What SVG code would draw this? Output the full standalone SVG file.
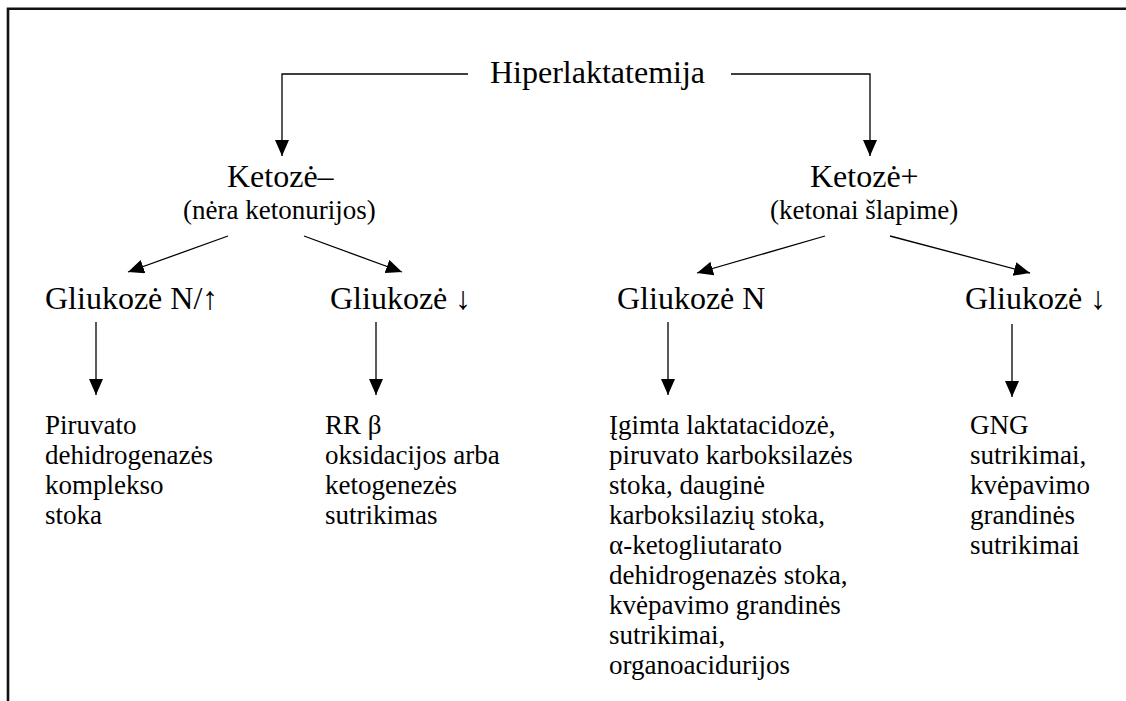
<svg xmlns="http://www.w3.org/2000/svg" width="1126" height="701" viewBox="0 0 1126 701">
<style>
.t{font-family:'Liberation Serif','DejaVu Serif','Noto Serif',Tinos,'Times New Roman',Times,serif;fill:#000}
.big{font-size:32px}
.sub{font-size:27px}
.body{font-size:27px}
.conn{fill:none;stroke:#000;stroke-width:1.3}
</style>
<defs>
<marker id="ah" viewBox="0 0 16 14" refX="16" refY="7" markerWidth="16" markerHeight="14" markerUnits="userSpaceOnUse" orient="auto">
<path d="M0,0 L16,7 L0,14 z" fill="#000"/>
</marker>
</defs>
<rect width="1126" height="701" fill="#fff"/>
<path d="M8,701 V8.7 H1126" fill="none" stroke="#111" stroke-width="2.6"/>
<g id="connectors">
<path class="conn" d="M468,74 H282 V156" marker-end="url(#ah)"/>
<path class="conn" d="M731,74 H870 V156" marker-end="url(#ah)"/>
<path class="conn" d="M228,236 L128,272" marker-end="url(#ah)"/>
<path class="conn" d="M304,236 L402,272" marker-end="url(#ah)"/>
<path class="conn" d="M825,236 L697,273" marker-end="url(#ah)"/>
<path class="conn" d="M890,236 L1030,273" marker-end="url(#ah)"/>
<path class="conn" d="M96,322 V395" marker-end="url(#ah)"/>
<path class="conn" d="M376,322 V395" marker-end="url(#ah)"/>
<path class="conn" d="M668,322 V395" marker-end="url(#ah)"/>
<path class="conn" d="M1012,324 V397" marker-end="url(#ah)"/>
</g>
<g id="hiperlaktatemija"><text class="t big" font-family="Liberation Serif, serif" x="490" y="83">Hiperlaktatemija</text></g>
<g id="ketoze-minus">
<text class="t big" font-family="Liberation Serif, serif" x="227" y="187">Ketozė–</text>
<text class="t sub" font-family="Liberation Serif, serif" x="183" y="219">(nėra ketonurijos)</text>
</g>
<g id="ketoze-plus">
<text class="t big" font-family="Liberation Serif, serif" x="810" y="187">Ketozė+</text>
<text class="t sub" font-family="Liberation Serif, serif" x="770" y="219">(ketonai šlapime)</text>
</g>
<g id="gliukoze-n-up"><text class="t big" font-family="Liberation Serif, serif" x="45" y="309">Gliukozė N/↑</text></g>
<g id="gliukoze-down-1"><text class="t big" font-family="Liberation Serif, serif" x="330" y="309">Gliukozė ↓</text></g>
<g id="gliukoze-n"><text class="t big" font-family="Liberation Serif, serif" x="617" y="309">Gliukozė N</text></g>
<g id="gliukoze-down-2"><text class="t big" font-family="Liberation Serif, serif" x="965" y="309">Gliukozė ↓</text></g>
<g id="result-1" class="t body" font-family="Liberation Serif, serif">
<text x="45" y="434">Piruvato</text>
<text x="45" y="464">dehidrogenazės</text>
<text x="45" y="494">komplekso</text>
<text x="45" y="524">stoka</text>
</g>
<g id="result-2" class="t body" font-family="Liberation Serif, serif">
<text x="325" y="434">RR β</text>
<text x="325" y="464">oksidacijos arba</text>
<text x="325" y="494">ketogenezės</text>
<text x="325" y="524">sutrikimas</text>
</g>
<g id="result-3" class="t body" font-family="Liberation Serif, serif">
<text x="609" y="434">Įgimta laktatacidozė,</text>
<text x="609" y="464">piruvato karboksilazės</text>
<text x="609" y="494">stoka, dauginė</text>
<text x="609" y="524">karboksilazių stoka,</text>
<text x="609" y="554">α-ketogliutarato</text>
<text x="609" y="584">dehidrogenazės stoka,</text>
<text x="609" y="614">kvėpavimo grandinės</text>
<text x="609" y="644">sutrikimai,</text>
<text x="609" y="674">organoacidurijos</text>
</g>
<g id="result-4" class="t body" font-family="Liberation Serif, serif">
<text x="970" y="434">GNG</text>
<text x="970" y="464">sutrikimai,</text>
<text x="970" y="494">kvėpavimo</text>
<text x="970" y="524">grandinės</text>
<text x="970" y="554">sutrikimai</text>
</g>
</svg>
